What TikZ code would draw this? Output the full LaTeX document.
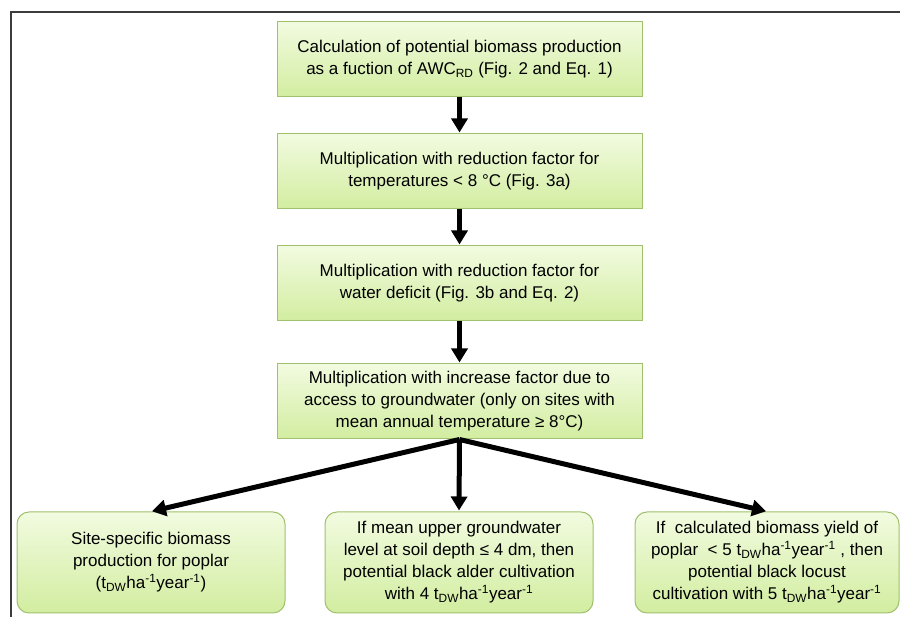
\documentclass[tikz,border=0pt]{standalone}
\usepackage{fontspec}
\setmainfont{Liberation Sans}
\usepackage{tikz}
\usetikzlibrary{arrows.meta}
\usetikzlibrary{positioning}
\usepackage{xcolor}
\definecolor{boxtop}{RGB}{242,251,224}
\definecolor{boxbottom}{RGB}{210,237,160}
\definecolor{boxline}{RGB}{160,192,110}
\definecolor{frameline}{RGB}{60,60,60}
\newcommand{\tdw}{t\textsubscript{DW}ha\textsuperscript{-1}year\textsuperscript{-1}}

\begin{document}
\begin{tikzpicture}[x=1pt,y=1pt,
		stepbox/.style={rectangle, draw=boxline, line width=1pt, top color=boxtop, bottom color=boxbottom,
			minimum width=365pt, minimum height=75pt, align=center, inner sep=2pt,
			font=\fontsize{17}{22}\selectfont},
		resultbox/.style={stepbox, rounded corners=12pt, minimum width=268pt, minimum height=101pt},
		flow/.style={line width=5pt, -{Triangle[width=16pt,length=14pt]}, shorten >=1pt}]
		\useasboundingbox (0,0) rectangle (900,617);
		% frame
		\draw [frameline, line width=1.5pt] (11,0) -- (11,605) -- (900,605);
		
		\node[stepbox] (calc) at (459.5,557.5) {Calculation of potential biomass production\\as a fuction of AWC\textsubscript{RD} (Fig. 2 and Eq. 1)};
		\node[stepbox, below=36pt of calc] (temp) {Multiplication with reduction factor for\\temperatures < 8 °C (Fig. 3a)};
		\node[stepbox, below=36pt of temp] (water) {Multiplication with reduction factor for\\water deficit (Fig. 3b and Eq. 2)};
		\node[stepbox, below=42pt of water] (ground) {Multiplication with increase factor due to\\access to groundwater (only on sites with\\mean annual temperature ≥ 8°C)};
		
		\node[resultbox] (poplar) at (151,54.5) {Site-specific biomass\\production for poplar\\(\tdw)};
		\node[resultbox] (alder) at (459,54.5) {If mean upper groundwater\\level at soil depth ≤ 4 dm, then\\potential black alder cultivation\\with 4 \tdw};
		\node[resultbox, minimum width=264pt] (locust) at (767,54.5) {If\ \ calculated biomass yield of\\poplar\ \ < 5 \tdw\ , then\\potential black locust\\cultivation with 5 \tdw};
		
		\draw [flow] (calc) -- (temp);
		\draw [flow] (temp) -- (water);
		\draw [flow] (water) -- (ground);
		
		\draw [flow] (ground.south) -- (poplar.north);
		\draw [flow] (ground.south) -- (alder.north);
		\draw [flow] (ground.south) -- (locust.north);
		
	\end{tikzpicture}
\end{document}
